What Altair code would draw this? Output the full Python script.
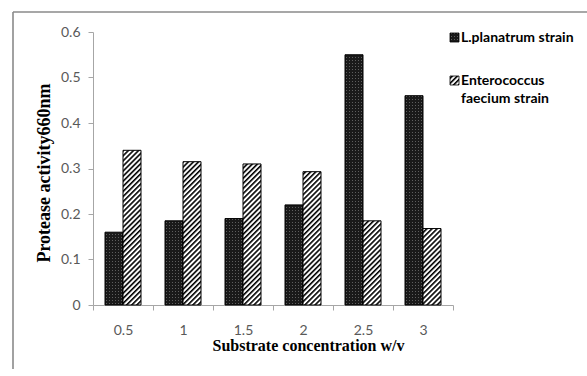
import altair as alt
import pandas as pd
from altair.utils.html import TEMPLATES

# Substrate concentrations (w/v) and protease activity read at 660 nm
concentrations = ["0.5", "1", "1.5", "2", "2.5", "3"]
strains = ["L.planatrum strain", "Enterococcus faecium strain"]
l_planatrum = [0.16, 0.185, 0.19, 0.22, 0.55, 0.46]
enterococcus = [0.34, 0.315, 0.31, 0.293, 0.185, 0.168]
y_ticks = [0, 0.1, 0.2, 0.3, 0.4, 0.5, 0.6]

rows = []
for i, c in enumerate(concentrations):
    rows.append({"conc": c, "strain": strains[0], "activity": l_planatrum[i]})
    rows.append({"conc": c, "strain": strains[1], "activity": enterococcus[i]})
df = pd.DataFrame(rows)

W, H = 360, 273
LABEL_FONT = "Lato"
SERIF = "Liberation Serif"
AXIS_GREY = "#a6a6a6"
TEXT_GREY = "#595959"

# SVG fill patterns used by the bars (dotted dark fill and diagonal hatching)
PATTERN_DEFS = """
<svg width="0" height="0" style="position:absolute;left:0;top:0">
  <defs>
    <pattern id="dots" patternUnits="userSpaceOnUse" width="3" height="3">
      <rect width="3" height="3" fill="#1a1a1a"/>
      <rect x="1" y="1" width="1" height="1" fill="#5e5e5e"/>
    </pattern>
    <pattern id="hatch" patternUnits="userSpaceOnUse" width="3.6" height="3.6"
             patternTransform="rotate(45)">
      <rect width="3.6" height="3.6" fill="white"/>
      <rect width="1.6" height="3.6" fill="black"/>
    </pattern>
  </defs>
</svg>
"""


class PatternTemplate:
    """Standard Altair HTML template with the fill patterns added to the page."""

    def render(self, **kwargs):
        html = TEMPLATES["standard"].render(**kwargs)
        return html.replace('<div id="', PATTERN_DEFS + '<div id="', 1)


bars = alt.Chart(df).mark_bar(stroke="black", strokeWidth=1).encode(
    x=alt.X(
        "conc:N",
        sort=concentrations,
        scale=alt.Scale(paddingInner=0, paddingOuter=0),
        axis=alt.Axis(
            title="Substrate concentration w/v",
            titleFont=SERIF,
            titleFontSize=16,
            titleFontWeight="bold",
            titleColor="black",
            titleX=215,
            titleY=40.5,
            titleAlign="center",
            titleBaseline="middle",
            labelAngle=0,
            labelFont=LABEL_FONT,
            labelFontSize=14,
            labelColor=TEXT_GREY,
            labelPadding=13,
            tickBand="extent",
            tickSize=5,
            tickColor=AXIS_GREY,
            domainColor=AXIS_GREY,
            grid=False,
        ),
    ),
    xOffset=alt.XOffset(
        "strain:N",
        sort=strains,
        scale=alt.Scale(paddingInner=0, paddingOuter=2 / 3),
    ),
    y=alt.Y(
        "activity:Q",
        scale=alt.Scale(domain=[0, 0.6], nice=False),
        axis=alt.Axis(
            values=y_ticks,
            labelExpr="datum.value == 0 ? '0' : format(datum.value, '.1f')",
            title="Protease activity660nm",
            titleFont=SERIF,
            titleFontSize=18,
            titleFontWeight="bold",
            titleColor="black",
            titleX=-49,
            titleY=140.5,
            titleAlign="center",
            titleBaseline="middle",
            labelFont=LABEL_FONT,
            labelFontSize=14,
            labelColor=TEXT_GREY,
            labelPadding=8,
            tickSize=5,
            tickColor=AXIS_GREY,
            domainColor=AXIS_GREY,
            grid=False,
        ),
    ),
    fill=alt.Fill(
        "strain:N",
        scale=alt.Scale(domain=strains, range=["url(#dots)", "url(#hatch)"]),
        legend=None,
    ),
)

one = pd.DataFrame({"k": [0]})
FRAME = "#8a8a8a"

# outer frame: left and top edges
frame_left = alt.Chart(one).mark_rule(color=FRAME, strokeWidth=1.6).encode(
    x=alt.value(-80), y=alt.value(-20), y2=alt.value(344)
)
frame_top = alt.Chart(one).mark_rule(color=FRAME, strokeWidth=1.6).encode(
    x=alt.value(-80), x2=alt.value(494), y=alt.value(-20)
)

# legend swatches and labels
sw1 = alt.Chart(one).mark_rect(fill="url(#dots)", stroke="black", strokeWidth=0.8).encode(
    x=alt.value(357), x2=alt.value(366), y=alt.value(1), y2=alt.value(10)
)
sw2 = alt.Chart(one).mark_rect(fill="url(#hatch)", stroke="black", strokeWidth=0.8).encode(
    x=alt.value(357), x2=alt.value(366), y=alt.value(44), y2=alt.value(53)
)
legend_text = dict(
    font=LABEL_FONT, fontSize=14, fontWeight="bold", color="black",
    align="left", baseline="middle",
)
lt1 = alt.Chart(one).mark_text(**legend_text).encode(
    x=alt.value(368), y=alt.value(5.5), text=alt.value(strains[0])
)
lt2 = alt.Chart(one).mark_text(**legend_text).encode(
    x=alt.value(368), y=alt.value(48.5), text=alt.value("Enterococcus")
)
lt3 = alt.Chart(one).mark_text(**legend_text).encode(
    x=alt.value(368), y=alt.value(66.5), text=alt.value("faecium strain")
)

chart = (
    alt.layer(frame_left, frame_top, bars, sw1, sw2, lt1, lt2, lt3)
    .properties(
        width=W,
        height=H,
        autosize=alt.AutoSizeParams(type="none"),
        padding={"left": 93, "top": 32, "right": 134, "bottom": 64},
        background="white",
    )
    .configure_view(stroke=None)
)

chart.save(
    "out.html",
    embed_options={"renderer": "svg", "actions": False},
    template=PatternTemplate(),
)
